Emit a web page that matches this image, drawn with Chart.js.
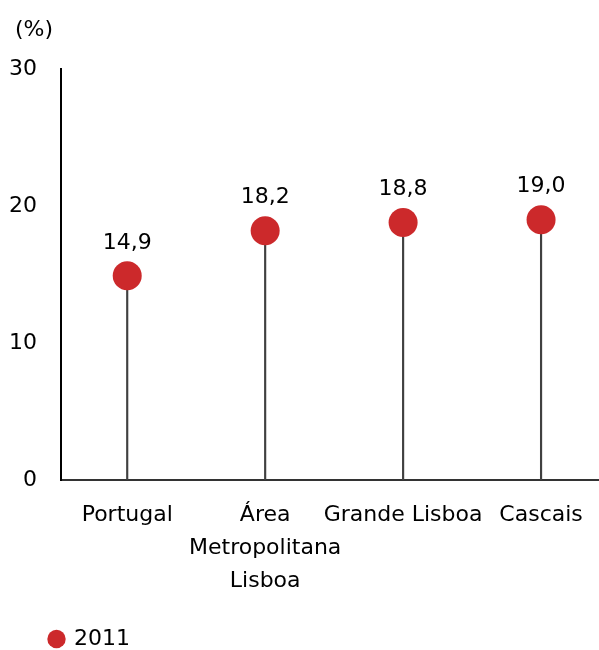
<!DOCTYPE html>
<html>
<head>
<meta charset="utf-8">
<script src="https://cdn.jsdelivr.net/npm/chart.js@4/dist/chart.umd.min.js"></script>
<style>
  html, body { margin: 0; padding: 0; background: #fff; }
  #wrap { width: 599px; height: 650px; position: relative; }
</style>
</head>
<body>
<div id="wrap"><canvas id="c"></canvas></div>
<script>
// Regions compared (share of population, %)
const categories = [
  ['Portugal'],
  ['Área', 'Metropolitana', 'Lisboa'],
  ['Grande Lisboa'],
  ['Cascais']
];
const values2011 = [14.9, 18.2, 18.8, 19.0];
const yTicks = [0, 10, 20, 30];
const seriesName = '2011';
const unitLabel = '(%)';

const RED = '#cc292b';
const FONT = "'DejaVu Sans', sans-serif";
const FS = 22;

const points = values2011.map((v, i) => ({ x: i, y: v }));

// value labels above each marker, e.g. "14,9"
const valueLabels = {
  id: 'valueLabels',
  afterDatasetsDraw(chart) {
    const meta = chart.getDatasetMeta(1);
    const ctx = chart.ctx;
    ctx.save();
    ctx.font = FS + 'px ' + FONT;
    ctx.fillStyle = '#000';
    ctx.textAlign = 'center';
    ctx.textBaseline = 'middle';
    meta.data.forEach((el, i) => {
      const txt = values2011[i].toFixed(1).replace('.', ',');
      ctx.fillText(txt, el.x, el.y - 33);
    });
    ctx.restore();
  }
};

// unit text above the value axis
const unitText = {
  id: 'unitText',
  afterDraw(chart) {
    const ctx = chart.ctx;
    const ys = chart.scales.y;
    ctx.save();
    ctx.font = FS + 'px ' + FONT;
    ctx.fillStyle = '#000';
    ctx.textAlign = 'left';
    ctx.textBaseline = 'middle';
    ctx.fillText(unitLabel, ys.left + 15, 30);
    ctx.restore();
  }
};

// indent the legend under the value axis
const legendIndent = {
  id: 'legendIndent',
  afterLayout(chart) {
    if (chart.legend) {
      chart.legend.left += 38;
      chart.legend.top += 10;
    }
  }
};

new Chart(document.getElementById('c'), {
  data: {
    datasets: [
      {
        type: 'bar',
        label: 'stem',
        data: points,
        backgroundColor: '#404040',
        barThickness: 1.5,
        order: 2
      },
      {
        type: 'scatter',
        label: seriesName,
        data: points,
        backgroundColor: RED,
        borderColor: RED,
        pointStyle: 'circle',
        pointRadius: 14.5,
        pointHoverRadius: 14.5,
        borderWidth: 0,
        clip: false,
        order: 1
      }
    ]
  },
  options: {
    responsive: true,
    maintainAspectRatio: false,
    animation: false,
    layout: { autoPadding: false, padding: { top: 69, left: 0, right: 0, bottom: 0 } },
    plugins: {
      tooltip: { enabled: false },
      title: { display: false },
      legend: {
        display: true,
        position: 'bottom',
        align: 'start',
        labels: {
          filter: item => item.text === seriesName,
          usePointStyle: true,
          boxHeight: 13,
          boxWidth: 13,
          padding: 12,
          color: '#000',
          font: { family: FONT, size: FS }
        }
      }
    },
    scales: {
      x: {
        type: 'linear',
        offset: false,
        min: -0.48,
        max: 3.42,
        grid: { display: false, drawTicks: false, offset: false },
        border: { display: true, color: '#333', width: 2 },
        afterBuildTicks: s => { s.ticks = categories.map((_, i) => ({ value: i })); },
        afterFit: s => {
          s.height = 126;
          s.paddingLeft = 0;
          s.paddingRight = 0;
        },
        ticks: {
          autoSkip: false,
          maxRotation: 0,
          padding: 19,
          color: '#000',
          font: { family: FONT, size: FS, lineHeight: 1.5 },
          callback: v => categories[v]
        }
      },
      y: {
        min: 0,
        max: 30,
        grid: { display: false, drawTicks: false },
        border: { display: true, color: '#000', width: 2 },
        afterBuildTicks: s => { s.ticks = yTicks.map(v => ({ value: v })); },
        afterFit: s => { s.width = 61; },
        ticks: {
          padding: 24,
          color: '#000',
          font: { family: FONT, size: FS }
        }
      }
    }
  },
  plugins: [valueLabels, unitText, legendIndent]
});
</script>
</body>
</html>
